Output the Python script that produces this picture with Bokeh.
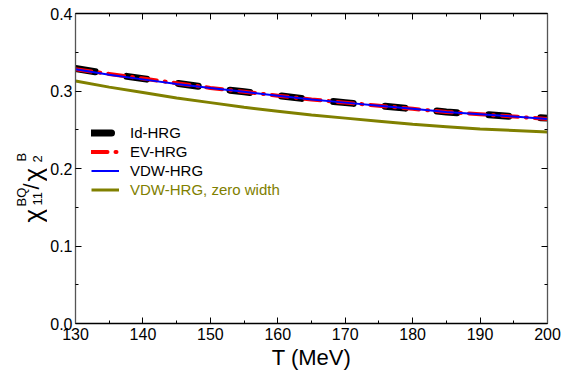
import math
from bokeh.plotting import figure
from bokeh.layouts import row
from bokeh.models import (Range1d, LinearAxis, FixedTicker, Legend, LegendItem,
                          CustomJSTickFormatter, PrintfTickFormatter)
from bokeh.core.properties import value
from bokeh.embed import file_html
from bokeh.resources import INLINE

# ---- data ----
T = [130, 135, 140, 145, 150, 155, 160, 165, 170, 175, 180, 185, 190, 195, 200]
id_hrg = [0.329, 0.322, 0.316, 0.310, 0.304, 0.299, 0.294, 0.289, 0.285, 0.281,
          0.277, 0.273, 0.270, 0.267, 0.265]
ev_hrg = [0.328, 0.322, 0.316, 0.310, 0.304, 0.299, 0.294, 0.289, 0.285, 0.281,
          0.277, 0.273, 0.270, 0.267, 0.264]
vdw_hrg = [0.328, 0.321, 0.315, 0.309, 0.304, 0.299, 0.294, 0.289, 0.285, 0.281,
           0.277, 0.273, 0.270, 0.267, 0.264]
vdw_zero = [0.313, 0.305, 0.298, 0.291, 0.285, 0.279, 0.274, 0.269, 0.265, 0.261,
            0.257, 0.254, 0.251, 0.249, 0.247]
x_ticks = [130, 140, 150, 160, 170, 180, 190, 200]
y_ticks = [0.0, 0.1, 0.2, 0.3, 0.4]
labels = ["Id-HRG", "EV-HRG", "VDW-HRG", "VDW-HRG, zero width"]
x_title = "T (MeV)"
# y title pieces: chi_11^BQ / chi_2^B
y_title_parts = ["\u03c7", "11", "BQ", "/", "\u03c7", "2", "B"]

FONT = "Liberation Sans"
OLIVE = "#808000"
H = 372
LW = 47  # width of the y-title strip

# ---- y title strip ----
yt = figure(width=LW, height=H, frame_width=LW, frame_height=H, title=None,
            output_backend="svg", toolbar_location=None,
            x_range=Range1d(0, LW), y_range=Range1d(0, H),
            min_border=0, x_axis_location=None, y_axis_location=None)
yt.grid.visible = False
yt.outline_line_color = None
# positions (page pixels, y from top) and font sizes for each piece
px = [32, 37, 21, 31, 32, 37, 21]
py_top = [209, 192, 193, 176, 168, 149, 148]
sizes = ["26px", "13px", "13px", "22px", "26px", "13px", "13px"]
for t, x, y, s in zip(y_title_parts, px, py_top, sizes):
    yt.text(x=[x], y=[H - y], text=[t], angle=math.pi / 2, text_align="left",
            text_baseline="alphabetic", text_font=value(FONT), text_font_size=s,
            text_color="black")

# ---- main plot ----
p = figure(width=561 - LW, height=H, output_backend="svg", toolbar_location=None,
           title=None, x_range=Range1d(130, 200), y_range=Range1d(0, 0.4),
           min_border_left=75 - LW, min_border_right=14, min_border_top=13,
           min_border_bottom=48, x_axis_location=None, y_axis_location=None)
p.grid.visible = False
p.outline_line_color = None

blank = CustomJSTickFormatter(code="return ''")


def style_axis(ax, ticks, show_labels, line_color="black"):
    step = ticks[1] - ticks[0]
    ax.ticker = FixedTicker(ticks=ticks, minor_ticks=[t + step / 2 for t in ticks[:-1]])
    ax.axis_line_color = line_color
    ax.axis_line_width = 1.3
    ax.major_tick_line_color = "black"
    ax.minor_tick_line_color = "black"
    ax.major_tick_in = 6
    ax.major_tick_out = 0
    ax.minor_tick_in = 3
    ax.minor_tick_out = 0
    ax.major_label_text_font = FONT
    ax.major_label_text_font_size = "16px"
    ax.major_label_text_color = "black"
    ax.major_label_standoff = 4 if show_labels else 0
    if not show_labels:
        ax.formatter = blank


xb = LinearAxis(axis_label=x_title)
style_axis(xb, x_ticks, True)
xb.axis_label_text_font = FONT
xb.axis_label_text_font_size = "22px"
xb.axis_label_text_font_style = "normal"
xb.axis_label_text_color = "black"
xb.axis_label_standoff = 2
p.add_layout(xb, "below")

yl = LinearAxis()
style_axis(yl, y_ticks, True, "#555555")
yl.formatter = PrintfTickFormatter(format="%.1f")
yl.major_label_standoff = 3
p.add_layout(yl, "left")

xt = LinearAxis()
style_axis(xt, x_ticks, False)
p.add_layout(xt, "above")

yr = LinearAxis()
style_axis(yr, y_ticks, False, "#555555")
p.add_layout(yr, "right")

r_id = p.line(T, id_hrg, line_color="black", line_width=7, line_dash="20 32",
              line_cap="round")
r_ev = p.line(T, ev_hrg, line_color="red", line_width=4, line_dash="16 8 1 8",
              line_cap="round")
r_vdw = p.line(T, vdw_hrg, line_color="blue", line_width=2)
r_zero = p.line(T, vdw_zero, line_color=OLIVE, line_width=3)


def make_legend(items, color, loc):
    return Legend(items=items, location=loc, padding=0, margin=0, spacing=0,
                  label_height=19, glyph_height=19, glyph_width=28, label_standoff=11,
                  label_text_font=FONT, label_text_font_size="15px",
                  label_text_color=color, border_line_color=None,
                  background_fill_alpha=0)


lg1 = make_legend([LegendItem(label=labels[0], renderers=[r_id]),
                   LegendItem(label=labels[1], renderers=[r_ev]),
                   LegendItem(label=labels[2], renderers=[r_vdw])], "black", (16, 143))
lg2 = make_legend([LegendItem(label=labels[3], renderers=[r_zero])], OLIVE, (16, 124))
p.add_layout(lg1)
p.add_layout(lg2)

layout = row(yt, p, spacing=0)
open("out.html", "w").write(file_html(layout, INLINE))
